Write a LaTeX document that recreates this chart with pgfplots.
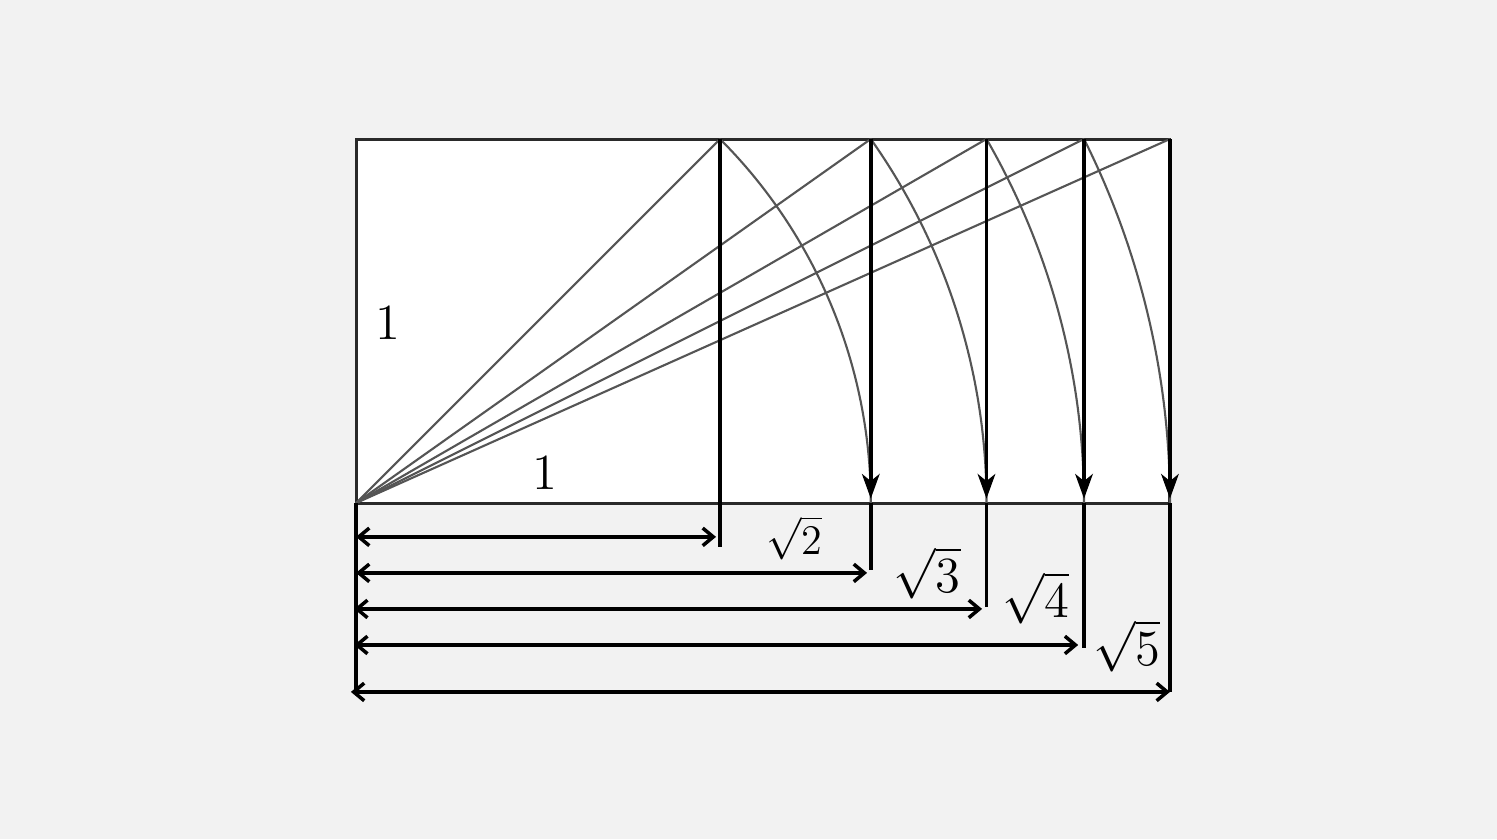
\documentclass[border=0pt]{standalone}
\usepackage{pgfplots}
\pgfplotsset{compat=1.18}
\usetikzlibrary{arrows.meta}
\definecolor{bgc}{HTML}{F2F2F2}
\definecolor{rectc}{HTML}{2A2A2A}
\definecolor{diagc}{HTML}{555555}
\begin{document}
\begin{tikzpicture}
\begin{axis}[
  scale only axis,
  x=3.64cm, y=3.64cm,
  xmin=-0.97802, xmax=3.13462,
  ymin=-0.92308, ymax=1.38187,
  hide axis,
  clip=true,
]
\fill[bgc] (rel axis cs:0,0) rectangle (rel axis cs:1,1);
% rectangle
\addplot[draw=rectc, fill=white, line width=0.85pt] coordinates {(0,0) (2.23607,0) (2.23607,1) (0,1) (0,0)} -- cycle;
% diagonals
\addplot[diagc, line width=0.6pt] coordinates {(0,0) (1,1)};
\addplot[diagc, line width=0.6pt] coordinates {(0,0) (1.41421,1)};
\addplot[diagc, line width=0.6pt] coordinates {(0,0) (1.73205,1)};
\addplot[diagc, line width=0.6pt] coordinates {(0,0) (2,1)};
\addplot[diagc, line width=0.6pt] coordinates {(0,0) (2.23607,1)};
% arcs
\draw[diagc, line width=0.6pt] (axis cs:1,1) arc[start angle=45, end angle=0, radius=5.1477cm];
\draw[diagc, line width=0.6pt] (axis cs:1.41421,1) arc[start angle=35.2644, end angle=0, radius=6.3047cm];
\draw[diagc, line width=0.6pt] (axis cs:1.73205,1) arc[start angle=30, end angle=0, radius=7.28cm];
\draw[diagc, line width=0.6pt] (axis cs:2,1) arc[start angle=26.5651, end angle=0, radius=8.1393cm];
% verticals inside with arrows
\addplot[black, line width=1pt] coordinates {(1,1) (1,-0.121)};
\addplot[black, line width=1pt, -{Stealth[length=7pt, width=5pt, inset=2pt]}] coordinates {(1.41421,1) (1.41421,0.012)};
\addplot[black, line width=1pt, -{Stealth[length=7pt, width=5pt, inset=2pt]}] coordinates {(1.73205,1) (1.73205,0.012)};
\addplot[black, line width=1pt, -{Stealth[length=7pt, width=5pt, inset=2pt]}] coordinates {(2,1) (2,0.012)};
\addplot[black, line width=1pt, -{Stealth[length=7pt, width=5pt, inset=2pt]}] coordinates {(2.23607,1) (2.23607,0.012)};
% verticals below
\addplot[black, line width=1pt] coordinates {(0,0) (0,-0.525)};
\addplot[black, line width=1pt] coordinates {(1.41421,0) (1.41421,-0.184)};
\addplot[black, line width=1pt] coordinates {(1.73205,0) (1.73205,-0.286)};
\addplot[black, line width=1pt] coordinates {(2,0) (2,-0.398)};
\addplot[black, line width=1pt] coordinates {(2.23607,0) (2.23607,-0.519)};
% horizontal double arrows
\addplot[black, line width=1pt, {Straight Barb[length=3pt, width=5pt]}-{Straight Barb[length=3pt, width=5pt]}] coordinates {(0,-0.093) (0.989,-0.093)};
\addplot[black, line width=1pt, {Straight Barb[length=3pt, width=5pt]}-{Straight Barb[length=3pt, width=5pt]}] coordinates {(0,-0.192) (1.404,-0.192)};
\addplot[black, line width=1pt, {Straight Barb[length=3pt, width=5pt]}-{Straight Barb[length=3pt, width=5pt]}] coordinates {(-0.005,-0.291) (1.720,-0.291)};
\addplot[black, line width=1pt, {Straight Barb[length=3pt, width=5pt]}-{Straight Barb[length=3pt, width=5pt]}] coordinates {(-0.005,-0.390) (1.984,-0.390)};
\addplot[black, line width=1pt, {Straight Barb[length=3pt, width=5pt]}-{Straight Barb[length=3pt, width=5pt]}] coordinates {(-0.014,-0.519) (2.236,-0.519)};
% labels
\node[font=\fontsize{15.5}{17}\selectfont] at (axis cs:0.088,0.4945) {$1$};
\node[font=\fontsize{15.5}{17}\selectfont] at (axis cs:0.519,0.082) {$1$};
\node[font=\fontsize{11.5}{13}\selectfont] at (axis cs:1.203,-0.096) {$\sqrt{2}$};
\node[font=\fontsize{14}{16}\selectfont] at (axis cs:1.569,-0.192) {$\sqrt{3}$};
\node[font=\fontsize{14}{16}\selectfont] at (axis cs:1.868,-0.261) {$\sqrt{4}$};
\node[font=\fontsize{14}{16}\selectfont] at (axis cs:2.118,-0.393) {$\sqrt{5}$};
\end{axis}
\end{tikzpicture}
\end{document}
